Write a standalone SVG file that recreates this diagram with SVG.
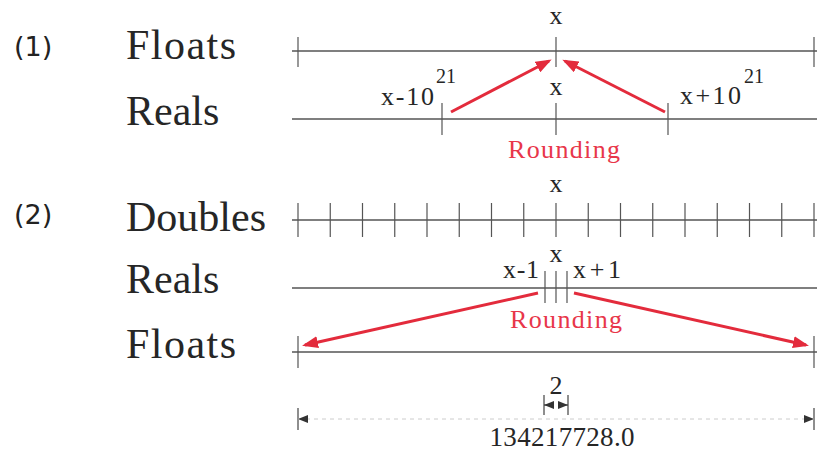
<svg xmlns="http://www.w3.org/2000/svg" width="817" height="451" viewBox="0 0 817 451">
<style>
.lbl{font-family:"Liberation Serif","Times New Roman",serif;font-size:42px;fill:#262626}
.num{font-family:"DejaVu Sans",sans-serif;font-size:27px;fill:#222}
.sm{font-family:"Liberation Serif","Times New Roman",serif;font-size:26px;fill:#262626}
.sup{font-family:"Liberation Serif","Times New Roman",serif;font-size:20px;fill:#262626}
.red{font-family:"Liberation Serif","Times New Roman",serif;font-size:26px;fill:#e8364a}
.axis{stroke:#555;stroke-width:1.4;fill:none}
.tick{stroke:#555;stroke-width:1.2;fill:none}
.arrow{stroke:#e32b3c;stroke-width:3;fill:none;marker-end:url(#ah)}
.dim{stroke:#444;stroke-width:1.2;fill:none}
.dash{stroke:#ccc;stroke-width:1;stroke-dasharray:4 4;fill:none}
</style>
<defs>
<marker id="ah" markerUnits="userSpaceOnUse" markerWidth="16" markerHeight="12" viewBox="0 0 16 12" refX="13" refY="6" orient="auto">
<path d="M0,0 L16,6 L0,12 z" fill="#e32b3c"/>
</marker>
<marker id="dh" markerUnits="userSpaceOnUse" markerWidth="10" markerHeight="8" viewBox="0 0 10 8" refX="10" refY="4" orient="auto-start-reverse">
<path d="M0,0 L10,4 L0,8 z" fill="#333"/>
</marker>
</defs>

<g id="label-1"><text class="num" x="14" y="56">(1)</text></g>
<g id="label-2"><text class="num" x="14" y="224">(2)</text></g>

<g id="floats1">
<text class="lbl" x="126" y="59" textLength="110">Floats</text>
<line class="axis" x1="292" y1="51" x2="817" y2="51"/>
<path class="tick" d="M298,37V67M556,37V67M814,37V67"/>
<text class="sm" x="556" y="24" text-anchor="middle">x</text>
</g>

<g id="reals1">
<text class="lbl" x="126" y="125">Reals</text>
<line class="axis" x1="292" y1="119" x2="817" y2="119"/>
<path class="tick" d="M442,103V135M556,103V135M668,103V135"/>
<text class="sm" x="556" y="95" text-anchor="middle">x</text>
<text class="sm" x="381" y="105" textLength="53">x-10</text>
<text class="sup" x="436" y="83">21</text>
<text class="sm" x="680" y="104" textLength="61">x+10</text>
<text class="sup" x="744" y="83">21</text>
<text class="red" x="564" y="158" text-anchor="middle" textLength="112">Rounding</text>
</g>

<g id="doubles2">
<text class="lbl" x="126" y="231">Doubles</text>
<line class="axis" x1="292" y1="220" x2="817" y2="220"/>
<path class="tick" d="M298,203V237M330.25,203V237M362.5,203V237M394.75,203V237M427,203V237M459.25,203V237M491.5,203V237M523.75,203V237M556,203V237M588.25,203V237M620.5,203V237M652.75,203V237M685,203V237M717.25,203V237M749.5,203V237M781.75,203V237M814,203V237"/>
<text class="sm" x="556" y="192" text-anchor="middle">x</text>
</g>

<g id="reals2">
<text class="lbl" x="126" y="293">Reals</text>
<line class="axis" x1="292" y1="288" x2="817" y2="288"/>
<path class="tick" d="M545,271V303M556,271V303M567,271V303"/>
<text class="sm" x="556" y="262" text-anchor="middle">x</text>
<text class="sm" x="503" y="278" textLength="36">x-1</text>
<text class="sm" x="573" y="278" textLength="48">x+1</text>
<text class="red" x="566" y="328" text-anchor="middle" textLength="112">Rounding</text>
</g>

<g id="floats2">
<text class="lbl" x="126" y="358" textLength="110">Floats</text>
<line class="axis" x1="292" y1="352" x2="817" y2="352"/>
<path class="tick" d="M298,336V368M814,336V368"/>
</g>

<g id="dimensions">
<text class="sm" x="556" y="394" text-anchor="middle">2</text>
<path class="dim" d="M544,395V415M568,395V415"/>
<line class="dim" x1="550" y1="405" x2="544" y2="405" marker-end="url(#dh)"/>
<line class="dim" x1="562" y1="405" x2="568" y2="405" marker-end="url(#dh)"/>
<path class="dim" d="M298,408V430M814,408V430"/>
<line class="dash" x1="298" y1="419" x2="814" y2="419"/>
<line x1="310" y1="419" x2="298" y2="419" stroke="none" marker-end="url(#dh)"/>
<line x1="802" y1="419" x2="814" y2="419" stroke="none" marker-end="url(#dh)"/>
<text class="sm" x="562" y="446" text-anchor="middle" style="font-size:27px" textLength="145">134217728.0</text>
</g>

<g id="connectors">
<line class="arrow" x1="451" y1="112" x2="549" y2="61"/>
<line class="arrow" x1="665" y1="112" x2="565" y2="61"/>
<line class="arrow" x1="538" y1="293" x2="305" y2="345"/>
<line class="arrow" x1="574" y1="293" x2="806" y2="345"/>
</g>
</svg>
